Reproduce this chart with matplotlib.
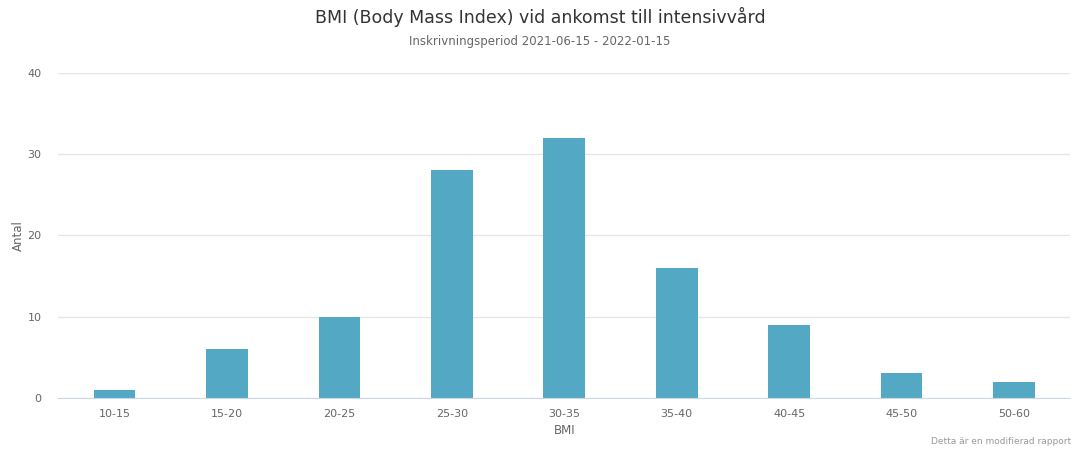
import matplotlib.pyplot as plt

categories = ["10-15", "15-20", "20-25", "25-30", "30-35", "35-40", "40-45", "45-50", "50-60"]
counts = [1, 6, 10, 28, 32, 16, 9, 3, 2]

fig = plt.figure(figsize=(10.8, 4.5), dpi=100)
ax = fig.add_axes([0.054, 0.116, 0.937, 0.722])

ax.bar(categories, counts, width=0.37, color="#53a8c4", zorder=2)
ax.set_xlim(-0.5, len(categories) - 0.5)
ax.set_ylim(0, 40)
ax.set_yticks([0, 10, 20, 30, 40])
ax.grid(axis="y", color="#e6e6e6", linewidth=1, zorder=0)

for side in ["top", "right", "left"]:
    ax.spines[side].set_visible(False)
ax.spines["bottom"].set_color("#ccd6eb")
ax.tick_params(axis="y", length=0, labelsize=8, colors="#666666", pad=12)
ax.tick_params(axis="x", length=0, labelsize=8, colors="#666666", pad=8)

ax.set_xlabel("BMI", fontsize=8.5, color="#666666", labelpad=4)
ax.set_ylabel("Antal", fontsize=8.5, color="#666666", labelpad=2)

fig.text(0.5, 0.962, "BMI (Body Mass Index) vid ankomst till intensivvård",
         ha="center", va="center", fontsize=12.5, color="#333333")
fig.text(0.5, 0.908, "Inskrivningsperiod 2021-06-15 - 2022-01-15",
         ha="center", va="center", fontsize=8.5, color="#666666")
fig.text(0.992, 0.01, "Detta är en modifierad rapport",
         ha="right", va="bottom", fontsize=6.5, color="#999999")

fig.savefig("out.png", dpi=100)
